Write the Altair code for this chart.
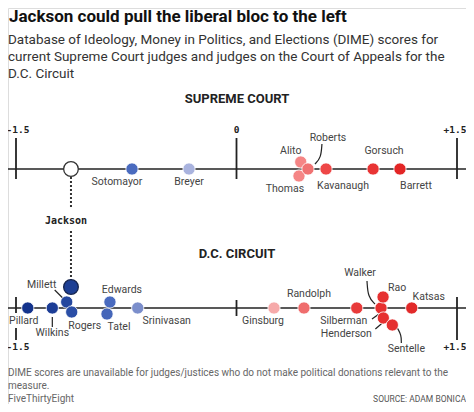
import altair as alt
import pandas as pd

# ---------------- data ----------------
sc_names = ["Jackson", "Sotomayor", "Breyer", "Thomas", "Alito", "Roberts", "Kavanaugh", "Gorsuch", "Barrett"]
sc_scores = [-1.126, -0.711, -0.323, 0.425, 0.437, 0.486, 0.609, 0.929, 1.112]

dc_names = ["Pillard", "Wilkins", "Millett", "Rogers", "Jackson", "Tatel", "Edwards", "Srinivasan",
            "Ginsburg", "Randolph", "Silberman", "Walker", "Rao", "Henderson", "Sentelle", "Katsas"]
dc_scores = [-1.420, -1.253, -1.155, -1.121, -1.126, -0.881, -0.861, -0.672,
             0.255, 0.459, 0.818, 0.983, 0.997, 0.999, 1.060, 1.192]

tick_values = [-1.5, 0.0, 1.5]
tick_labels = ["-1.5", "0", "+1.5"]

title_text = "Jackson could pull the liberal bloc to the left"
subtitle_lines = ["Database of Ideology, Money in Politics, and Elections (DIME) scores for",
                  "current Supreme Court judges and judges on the Court of Appeals for the",
                  "D.C. Circuit"]
note_lines = ["DIME scores are unavailable for judges/justices who do not make political donations relevant to the",
              "measure."]
credit_text = "FiveThirtyEight"
source_text = "SOURCE: ADAM BONICA"
section_titles = ["SUPREME COURT", "D.C. CIRCUIT"]

# ---------------- styles / layout ----------------
sc_colors = {"Jackson": "#ffffff", "Sotomayor": "#4a6bbf", "Breyer": "#a9b3de", "Thomas": "#f58585",
             "Alito": "#f58585", "Roberts": "#f07272", "Kavanaugh": "#ee4747", "Gorsuch": "#e83434",
             "Barrett": "#e32626"}
dc_colors = {"Pillard": "#13338c", "Wilkins": "#1c3d96", "Millett": "#24479e", "Rogers": "#2a4ea6",
             "Jackson": "#1d3f94", "Tatel": "#4566b9", "Edwards": "#4a6bbf", "Srinivasan": "#7b8ecb",
             "Ginsburg": "#f6aaaa", "Randolph": "#ef6d6d", "Silberman": "#e83a3a", "Walker": "#e63030",
             "Rao": "#e63030", "Henderson": "#e63030", "Sentelle": "#e53030", "Katsas": "#e22a2a"}

W, H = 458, 396
PPU = 147.0                      # pixels per DIME unit
XS = alt.Scale(domain=[-1.5, 1.5], range=[8, 449])
ROW = {"sc": 161, "dc": 300}

dodge = {("sc", "Thomas"): 7, ("sc", "Alito"): -7,
         ("dc", "Millett"): -6, ("dc", "Rogers"): 4, ("dc", "Jackson"): -21,
         ("dc", "Edwards"): -6, ("dc", "Tatel"): 6, ("dc", "Rao"): -11,
         ("dc", "Henderson"): 10, ("dc", "Sentelle"): 17}

label_off = {
    ("sc", "Sotomayor"): (-15, 13), ("sc", "Breyer"): (0, 13), ("sc", "Alito"): (-10, -18),
    ("sc", "Roberts"): (20, -31), ("sc", "Thomas"): (-14, 20), ("sc", "Kavanaugh"): (17, 17),
    ("sc", "Gorsuch"): (11, -18), ("sc", "Barrett"): (16, 17),
    ("dc", "Millett"): (-25, -23), ("dc", "Pillard"): (-4, 13), ("dc", "Wilkins"): (0, 25),
    ("dc", "Rogers"): (13, 18), ("dc", "Edwards"): (12, -18), ("dc", "Tatel"): (12, 19),
    ("dc", "Srinivasan"): (29, 13), ("dc", "Ginsburg"): (-11, 13), ("dc", "Randolph"): (5, -14),
    ("dc", "Walker"): (-21, -35), ("dc", "Rao"): (14, -20), ("dc", "Katsas"): (17, -11),
    ("dc", "Silberman"): (-13, 13), ("dc", "Henderson"): (-37, 26), ("dc", "Sentelle"): (14, 41),
}

leaders = [
    ("sc", "Roberts", [(14, -25), (13, -11), (7, -5)]),
    ("dc", "Millett", [(-12, -18), (-4, -10)]),
    ("dc", "Wilkins", [(0, 9), (0, 19)]),
    ("dc", "Walker", [(-14, -27), (-13, -11), (-6, -4)]),
    ("dc", "Walker", [(-9, 11), (-2, 6)]),
    ("dc", "Henderson", [(-8, 21), (-1, 15)]),
    ("dc", "Sentelle", [(5, 20), (9, 27), (9, 35)]),
]

tick_spans = {("sc", -1.5): [(-31, 10)], ("sc", 0.0): [(-31, 10)], ("sc", 1.5): [(-31, 10)],
              ("dc", -1.5): [(-11, 5), (20, 32)], ("dc", 0.0): [(-8, 8)], ("dc", 1.5): [(-11, 32)]}
tick_label_dy = {"sc": -39, "dc": 39}
tick_label_dx = {-1.5: 2, 0.0: 0, 1.5: -2}
jackson_dots = [(169, 199), (223, 272)]

LABEL_FONT = "Roboto"
MONO = "DejaVu Sans Mono"
SANS = "Roboto"

# ---------------- tables ----------------
score_of = {("sc", n): s for n, s in zip(sc_names, sc_scores)}
score_of.update({("dc", n): s for n, s in zip(dc_names, dc_scores)})

pts = []
for court, names, cols in (("sc", sc_names, sc_colors), ("dc", dc_names, dc_colors)):
    for n in names:
        big = n == "Jackson"
        pts.append({"court": court, "name": n, "x": score_of[(court, n)],
                    "y": ROW[court] + dodge.get((court, n), 0), "color": cols[n],
                    "size": 215 if big else 150,
                    "stroke": ("#333333" if court == "sc" else "#16254f") if big else "#ffffff",
                    "sw": 1.3 if big else 0.8})
pts = pd.DataFrame(pts)
order_map = {"Thomas": 0, "Alito": 1}
pts["ord"] = pts["name"].map(lambda n: order_map.get(n, 2))
pts = pts.sort_values("ord", kind="stable")

labs = pd.DataFrame([{"x": score_of[(c, n)] + dx / PPU, "y": ROW[c] + dy, "text": n}
                     for (c, n), (dx, dy) in label_off.items()])

lead = []
for i, (court, n, path) in enumerate(leaders):
    for j, (dx, dy) in enumerate(path):
        lead.append({"id": i, "o": j, "x": score_of[(court, n)] + dx / PPU, "y": ROW[court] + dy})
lead = pd.DataFrame(lead)

axis_lines = pd.DataFrame([{"x": -1.565, "x2": 1.572, "y": ROW["sc"]},
                           {"x": -1.565, "x2": 1.572, "y": ROW["dc"]}])

ticks = pd.DataFrame([{"x": v, "y": ROW[c] + a, "y2": ROW[c] + b}
                      for (c, v), spans in tick_spans.items() for a, b in spans])

tlabs = []
for court in ("sc", "dc"):
    for v, t in zip(tick_values, tick_labels):
        if court == "dc" and v == 0.0:
            continue
        tlabs.append({"x": v + tick_label_dx[v] / PPU, "y": ROW[court] + tick_label_dy[court], "text": t})
tlabs = pd.DataFrame(tlabs)

jx = score_of[("sc", "Jackson")]
dots = pd.DataFrame([{"x": jx, "y": a, "y2": b} for a, b in jackson_dots])
jlab = pd.DataFrame([{"x": jx - 5 / PPU, "y": 213, "text": "Jackson"}])

sec = pd.DataFrame([{"text": section_titles[0], "y": 91}, {"text": section_titles[1], "y": 246}])
subs = pd.DataFrame([{"text": t, "y": 32 + 17 * i} for i, t in enumerate(subtitle_lines)])
notes = pd.DataFrame([{"text": t, "y": 365 + 13 * i} for i, t in enumerate(note_lines)])

X = lambda f="x": alt.X(f"{f}:Q", scale=XS, axis=None)
Y = lambda f="y": alt.Y(f"{f}:Q", scale=None, axis=None)

layers = []
layers.append(alt.Chart(axis_lines).mark_rule(color="#222222", strokeWidth=1.6).encode(
    x=X(), x2="x2:Q", y=Y()))
layers.append(alt.Chart(ticks).mark_rule(color="#222222", strokeWidth=1.8).encode(
    x=X(), y=Y(), y2="y2:Q"))
layers.append(alt.Chart(dots).mark_rule(color="#333333", strokeWidth=2, strokeDash=[2, 2]).encode(
    x=X(), y=Y(), y2="y2:Q"))
layers.append(alt.Chart(lead).mark_line(color="#222222", strokeWidth=1.2, interpolate="basis").encode(
    x=X(), y=Y(), detail="id:N", order="o:Q"))
layers.append(alt.Chart(pts).mark_point(filled=True, opacity=1, shape="circle").encode(
    x=X(), y=Y(),
    color=alt.Color("color:N", scale=None),
    fill=alt.Fill("color:N", scale=None),
    stroke=alt.Stroke("stroke:N", scale=None),
    strokeWidth=alt.StrokeWidth("sw:Q", scale=None),
    size=alt.Size("size:Q", scale=None),
    order="ord:Q"))
layers.append(alt.Chart(labs).mark_text(font=LABEL_FONT, fontSize=10.5, color="#444444").encode(
    x=X(), y=Y(), text="text:N"))
layers.append(alt.Chart(tlabs).mark_text(font=MONO, fontSize=9.5, fontWeight="bold", color="#222222").encode(
    x=X(), y=Y(), text="text:N"))
layers.append(alt.Chart(jlab).mark_text(font=MONO, fontSize=10, fontWeight="bold", color="#222222").encode(
    x=X(), y=Y(), text="text:N"))
layers.append(alt.Chart(sec).mark_text(font=SANS, fontSize=13, fontWeight="bold", color="#222222").encode(
    x=alt.value(229), y=Y(), text="text:N"))
layers.append(alt.Chart(pd.DataFrame([{"text": title_text}])).mark_text(
    font=SANS, fontSize=17, fontWeight="bold", color="#111111", align="left", baseline="top").encode(
    x=alt.value(1), y=alt.value(1), text="text:N"))
layers.append(alt.Chart(subs).mark_text(font=SANS, fontSize=13.5, color="#333333", align="left").encode(
    x=alt.value(0), y=Y(), text="text:N"))
layers.append(alt.Chart(notes).mark_text(font=SANS, fontSize=10, color="#666666", align="left").encode(
    x=alt.value(0), y=Y(), text="text:N"))
layers.append(alt.Chart(pd.DataFrame([{"text": credit_text}])).mark_text(
    font=SANS, fontSize=10, color="#666666", align="left").encode(
    x=alt.value(0), y=alt.value(391), text="text:N"))
layers.append(alt.Chart(pd.DataFrame([{"text": source_text}])).mark_text(
    font=LABEL_FONT, fontSize=8.5, color="#555555", align="right").encode(
    x=alt.value(W), y=alt.value(391), text="text:N"))

chart = alt.layer(*layers).properties(
    width=W, height=H, autosize=alt.AutoSizeParams(type="none"), padding=0
).configure_view(stroke=None).configure(background="white")

chart.save("out.html", embed_options={"renderer": "svg", "actions": False})
